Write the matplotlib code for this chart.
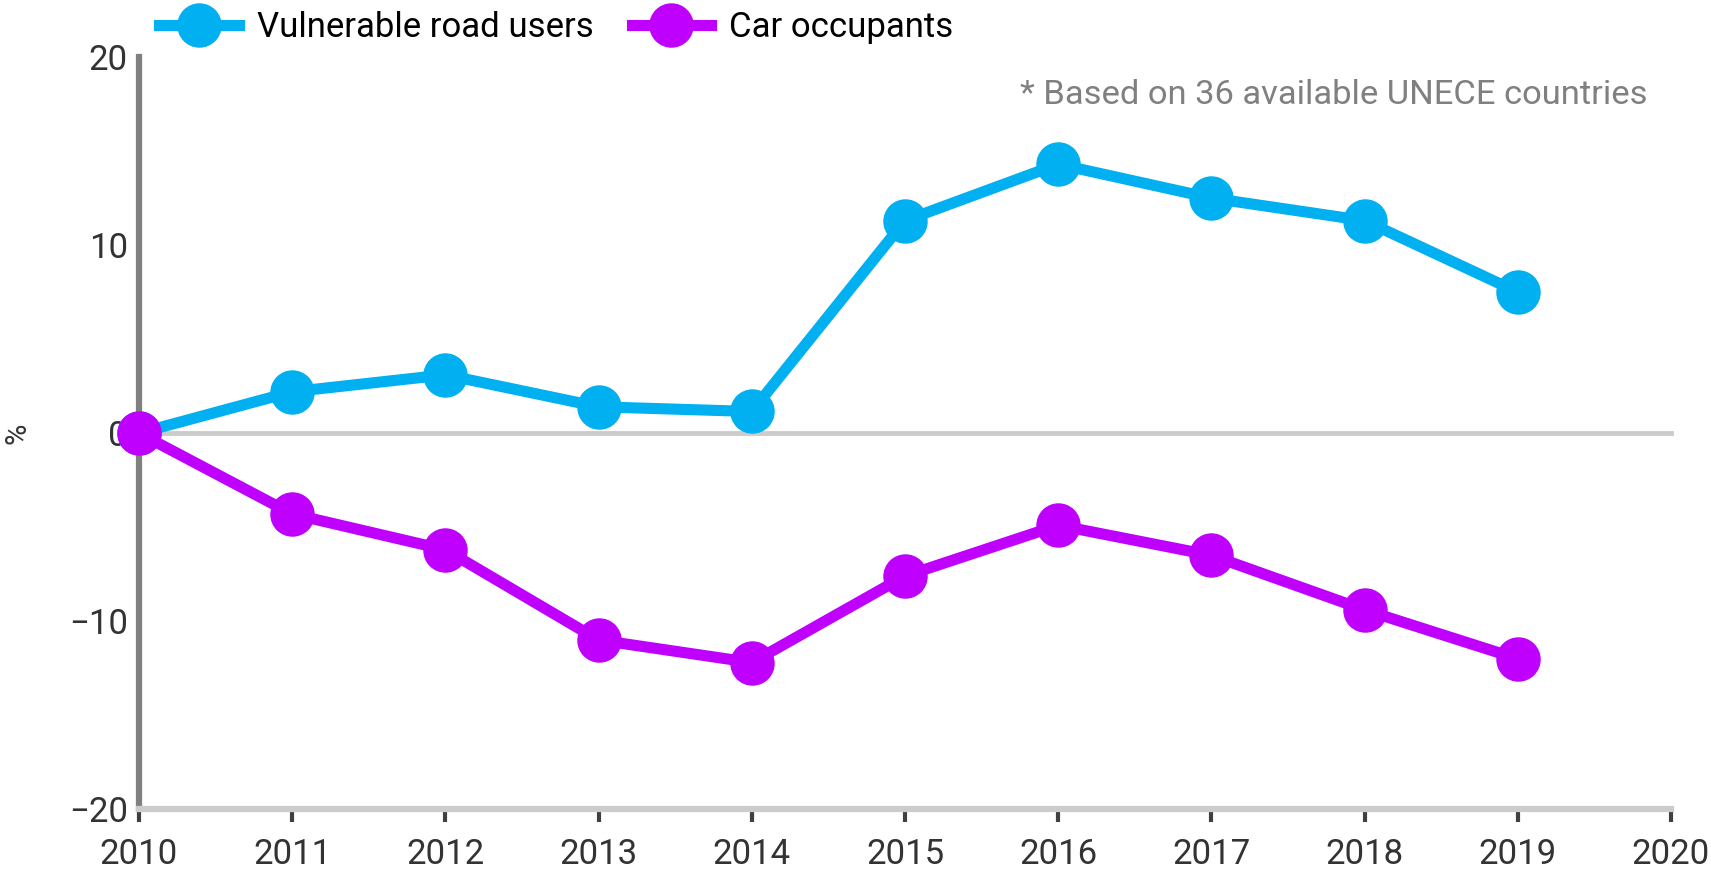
import matplotlib
matplotlib.use('Agg')
import matplotlib.pyplot as plt

plt.rcParams['font.family'] = ['Roboto', 'DejaVu Sans']

# data
years = [2010, 2011, 2012, 2013, 2014, 2015, 2016, 2017, 2018, 2019]
vulnerable = [0, 2.2, 3.1, 1.4, 1.15, 11.3, 14.3, 12.5, 11.3, 7.5]
car = [0, -4.3, -6.2, -11.0, -12.2, -7.6, -4.9, -6.5, -9.4, -12.0]
x_ticks = [2010, 2011, 2012, 2013, 2014, 2015, 2016, 2017, 2018, 2019, 2020]
y_ticks = [-20, -10, 0, 10, 20]
note = '* Based on 36 available UNECE countries'

blue = '#00b0f0'
purple = '#c000ff'

fig = plt.figure(figsize=(17.11, 8.72), dpi=100)
ax = fig.add_axes([0.0812, 0.072, 0.8954, 0.8626])

ax.axhline(0, color='#cccccc', lw=3.5, zorder=1, clip_on=False)

ax.plot(years, vulnerable, color=blue, lw=8, marker='o', ms=31,
        label='Vulnerable road users', zorder=3, clip_on=False)
ax.plot(years, car, color=purple, lw=8, marker='o', ms=31,
        label='Car occupants', zorder=3, clip_on=False)

ax.set_xlim(2010, 2020)
ax.set_ylim(-20, 20)
ax.set_xticks(x_ticks)
ax.set_yticks(y_ticks)
ax.set_yticklabels(['\u221220', '\u221210', '0', '10', '20'])

for s in ['top', 'right']:
    ax.spines[s].set_visible(False)
ax.spines['left'].set_color('#808080')
ax.spines['left'].set_linewidth(4.5)
ax.spines['bottom'].set_color('#cccccc')
ax.spines['bottom'].set_linewidth(4.5)

ax.tick_params(axis='x', length=9, width=3, color='#404040', pad=12,
               labelsize=25, labelcolor='#333333')
ax.tick_params(axis='y', length=0, pad=8, labelsize=25, labelcolor='#333333')

ax.set_ylabel('%', fontsize=21, color='#333333')
ax.yaxis.set_label_coords(-0.07, 0.5)

ax.text(0.985, 0.95, note, transform=ax.transAxes, ha='right', va='center',
        fontsize=24.8, color='#808080')

fig.legend(loc='upper left', bbox_to_anchor=(0.083, 1.007), ncol=2, frameon=False,
           fontsize=25, handlelength=2.3, columnspacing=1.1, handletextpad=0.5,
           borderaxespad=0.1)

plt.savefig('out.png', dpi=100)
